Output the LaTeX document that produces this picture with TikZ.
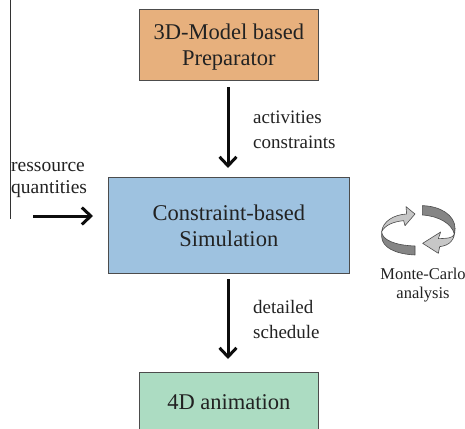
\documentclass[tikz,border=0pt]{standalone}
\usepackage{fontspec}
\setmainfont{Liberation Serif}
\usetikzlibrary{arrows.meta}
\definecolor{txt}{HTML}{222222}
\tikzset{
  box/.style={draw=black!70,line width=0.7pt,anchor=north west,inner sep=0pt,align=center,text=txt,font=\fontsize{22.5}{26}\selectfont},
  flow/.style={line width=3pt,black!95,-{Straight Barb[length=9pt,width=17pt,line width=3pt]}},
  lab/.style={text=txt,align=left,anchor=west,inner sep=0pt,font=\fontsize{19}{25}\selectfont},
  light/.style={fill=black!22,draw=black!70,line width=0.6pt,line join=round},
  dark/.style={fill=black!48,draw=black!70,line width=0.6pt,line join=round}
}
\begin{document}
\begin{tikzpicture}[x=1pt,y=-1pt]
\useasboundingbox (0,0) rectangle (465,428);
\fill[white] (0,0) rectangle (465,428);
\node[box,fill={rgb,255:red,231;green,176;blue,125},minimum width=179pt,minimum height=71pt,text depth=1pt] (prep) at (139,9) {3D-Model based\\Preparator};
\node[box,fill={rgb,255:red,158;green,194;blue,224},minimum width=241pt,minimum height=96pt] (sim) at (108,177) {Constraint-based\\Simulation};
\node[box,fill={rgb,255:red,172;green,220;blue,194},minimum width=179pt,minimum height=60pt] (anim) at (139,372) {4D animation};
\coordinate (vt) at (10,0);
\coordinate (vb) at (10,219);
\draw[black!80,line width=0.7pt] (vt) -- (vb);
\coordinate (res) at (33,216);
\coordinate (resend) at (93,216);
\coordinate (a1) at (228,87);
\coordinate (a2) at (228,168);
\coordinate (b1) at (228,279);
\coordinate (b2) at (228,359);
\draw[flow] (a1) -- (a2);
\draw[flow] (res) -- (resend);
\draw[flow] (b1) -- (b2);
\node[lab] (l1) at (253,130) {activities\\constraints};
\node[lab,font=\fontsize{19.5}{22}\selectfont] (l2) at (11,180) {ressource\\quantities};
\node[lab] (l3) at (253,319) {detailed\\schedule};
\node[text=txt,align=center,inner sep=0pt,font=\fontsize{16.5}{19}\selectfont] (mc) at (423,285) {Monte-Carlo\\analysis};
\begin{scope}[shift={(370,190)},x=0.3333pt,y=-0.3333pt]
\draw[dark] (35,125) .. controls (36,150) and (75,166) .. (135,168) -- (135,195) .. controls (75,192) and (36,172) .. (35,140) -- cycle;
\draw[light] (35,125) .. controls (38,95) and (70,74) .. (110,72) -- (108,50) -- (135,72) -- (105,107) -- (101,92) .. controls (70,95) and (45,105) .. (35,125) -- cycle;
\draw[dark] (157,47) .. controls (210,48) and (255,75) .. (255,115) -- (253,132) .. controls (245,100) and (205,78) .. (157,75) -- cycle;
\draw[light] (253,132) .. controls (250,145) and (230,145) .. (205,146) -- (212,126) -- (158,160) -- (205,190) -- (209,170) .. controls (240,166) and (255,150) .. (255,115) -- cycle;
\end{scope}
\end{tikzpicture}
\end{document}
